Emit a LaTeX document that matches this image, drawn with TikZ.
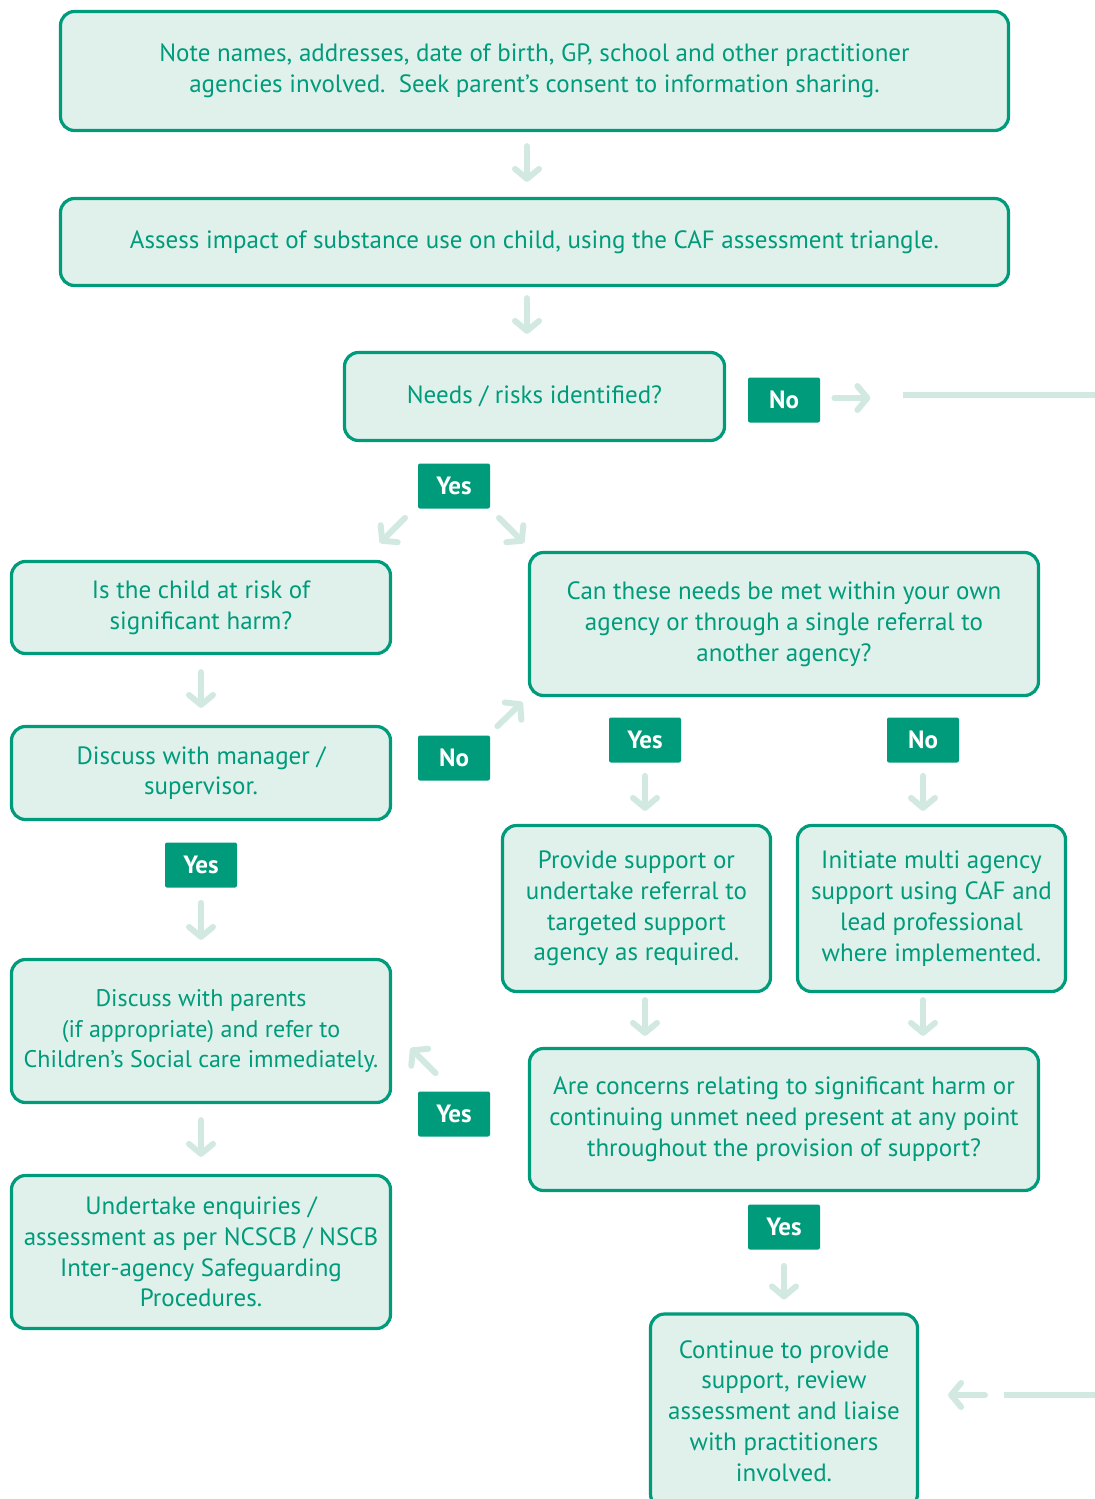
\documentclass[tikz,border=0pt]{standalone}
\usepackage{fontspec}
\setmainfont{PT Sans}
\usetikzlibrary{arrows.meta,calc}
\definecolor{cafgreen}{HTML}{009B7A}
\definecolor{caffill}{HTML}{E0F1EC}
\definecolor{cafarrow}{HTML}{D2E9E2}

\begin{document}
\begin{tikzpicture}[x=0.5pt,y=-0.5pt,
                    box/.style={rectangle, rounded corners=7pt, draw=cafgreen, line width=1.6pt,
                                fill=caffill, text=cafgreen, align=center, inner sep=0pt,
                                font=\fontsize{12.5}{15.4}\selectfont},
                    answer/.style={rectangle, rounded corners=1pt, fill=cafgreen, text=white,
                                   minimum width=36pt, minimum height=22.5pt, inner sep=0pt,
                                   font=\bfseries\fontsize{12.5}{14}\selectfont},
                    flow/.style={draw=cafarrow, line width=3pt, line cap=round,
                                 -{Straight Barb[length=5pt,width=12pt,round]}},
                    flowline/.style={draw=cafarrow, line width=3pt}]

        \useasboundingbox (0,0) rectangle (1095,1499);

        \node[box, minimum width=474pt, minimum height=59.5pt] (note) at (534.5,71)
          {Note names, addresses, date of birth, GP, school and other practitioner\\
           agencies involved.\ \ Seek parent’s consent to information sharing.};
        \node[box, minimum width=474pt, minimum height=43.5pt] (assess) at (534.5,242)
          {Assess impact of substance use on child, using the CAF assessment triangle.};
        \node[box, minimum width=190pt, minimum height=44pt] (needs) at (534.5,396.5)
          {Needs / risks identified?};
        \node[box, minimum width=189.5pt, minimum height=46pt] (risk) at (201,607.5)
          {Is the child at risk of\\significant harm?};
        \node[box, minimum width=254.5pt, minimum height=71.5pt] (canmeet) at (784,624)
          {Can these needs be met within your own\\agency or through a single referral to\\another agency?};
        \node[box, minimum width=189.5pt, minimum height=46.5pt] (manager) at (201,773)
          {Discuss with manager /\\supervisor.};
        \node[box, minimum width=134pt, minimum height=83pt] (provide) at (636.5,908.5)
          {Provide support or\\undertake referral to\\targeted support\\agency as required.};
        \node[box, minimum width=134pt, minimum height=83pt] (initiate) at (931.5,908.5)
          {Initiate multi agency\\support using CAF and\\lead professional\\where implemented.};
        \node[box, minimum width=189.5pt, minimum height=71.5pt, font=\fontsize{12}{15.4}\selectfont] (parents) at (201,1031)
          {Discuss with parents\\(if appropriate) and refer to\\Children’s Social care immediately.};
        \node[box, minimum width=254.5pt, minimum height=71pt] (concerns) at (784,1119.5)
          {Are concerns relating to significant harm or\\continuing unmet need present at any point\\throughout the provision of support?};
        \node[box, minimum width=189.5pt, minimum height=76.5pt] (enquiries) at (201,1252)
          {Undertake enquiries /\\assessment as per NCSCB / NSCB\\Inter-agency Safeguarding\\Procedures.};
        \node[box, minimum width=133.5pt, minimum height=97pt] (continue) at (784,1411)
          {Continue to provide\\support, review\\assessment and liaise\\with practitioners\\involved.};

        \node[answer] (no1) at (784,400) {No};
        \node[answer] (yes1) at (454,486) {Yes};
        \node[answer] (no2) at (454,758) {No};
        \node[answer] (yes2) at (645,740) {Yes};
        \node[answer] (no3) at (923,740) {No};
        \node[answer] (yes3) at (201,865) {Yes};
        \node[answer] (yes4) at (454,1114) {Yes};
        \node[answer] (yes5) at (784,1227) {Yes};

        \coordinate (exit1) at (903,395);
        \coordinate (edge1) at (1095,395);
        \coordinate (entry2) at (1004,1395);
        \coordinate (edge2) at (1095,1395);

        \draw[flow, shorten <=7pt, shorten >=7.5pt] ([xshift=-3.75pt]note.south) -- ([xshift=-3.75pt]note.south |- assess.north);
        \draw[flow, shorten <=5.5pt, shorten >=8.5pt] ([xshift=-3.75pt]assess.south) -- ([xshift=-3.75pt]assess.south |- needs.north);
        \draw[flow] ($(no1.east)+(14,-2)$) -- ++(36,0);
        \draw[flowline] (exit1) -- (edge1);
        \draw[flow] ($(yes1.south)+(-49,9)$) -- ++(-25,25);
        \draw[flow] ($(yes1.south)+(45,9)$) -- ++(25,25);
        \draw[flow, shorten <=8.5pt, shorten >=8.5pt] (risk) -- (manager);
        \draw[flow] ($(no2.north east)+(7,-9)$) -- ++(25,-24);
        \draw[flow, shorten <=6.5pt, shorten >=6.5pt] (yes2) -- (yes2 |- provide.north);
        \draw[flow, shorten <=6.5pt, shorten >=6.5pt] (no3) -- (no3 |- initiate.north);
        \draw[flow, shorten <=7.5pt, shorten >=9pt] (yes3) -- (manager.south |- parents.north);
        \draw[flow, shorten <=3.5pt, shorten >=5.5pt] (yes2 |- provide.south) -- (yes2 |- concerns.north);
        \draw[flow, shorten <=3.5pt, shorten >=5.5pt] (no3 |- initiate.south) -- (no3 |- concerns.north);
        \draw[flow] ($(yes4.north west)+(18,-18)$) -- ++(-25,-25);
        \draw[flow, shorten <=8pt, shorten >=8.5pt] (parents) -- (enquiries);
        \draw[flow, shorten <=8pt, shorten >=6.5pt] (yes5) -- (continue);
        \draw[flowline] (entry2) -- (edge2);
        \draw[flow] ($(entry2)+(-19,0)$) -- ($(continue.east |- entry2)+(29,0)$);
    \end{tikzpicture}
\end{document}
